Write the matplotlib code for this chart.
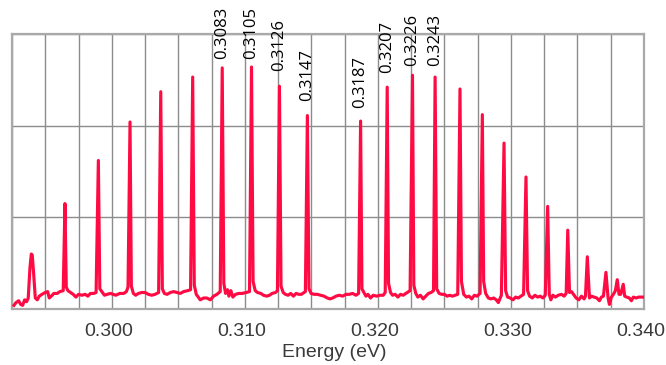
import matplotlib
matplotlib.use("Agg")
import matplotlib.pyplot as plt
from matplotlib.ticker import MultipleLocator, FixedLocator
from matplotlib.transforms import ScaledTranslation

# Measured spectrum: energy (eV) and intensity (arb. units)
trace_energy = [
    0.29265, 0.29280, 0.29300, 0.29315, 0.29330, 0.29345, 0.29360, 0.29372,
    0.29385, 0.29395, 0.29402, 0.29412, 0.29425, 0.29440, 0.29455, 0.29475,
    0.29500, 0.29518, 0.29530, 0.29545, 0.29565, 0.29590, 0.29610, 0.29635,
    0.29648, 0.29658, 0.29670, 0.29690, 0.29710, 0.29730, 0.29750, 0.29775,
    0.29800, 0.29820, 0.29840, 0.29865, 0.29882, 0.29899, 0.29910, 0.29925,
    0.29945, 0.29965, 0.29990, 0.30010, 0.30030, 0.30060, 0.30090, 0.30110,
    0.30122, 0.30137, 0.30147, 0.30162, 0.30180, 0.30200, 0.30225, 0.30250,
    0.30275, 0.30300, 0.30325, 0.30352, 0.30368, 0.30380, 0.30395, 0.30415,
    0.30440, 0.30465, 0.30490, 0.30515, 0.30540, 0.30570, 0.30592, 0.30608,
    0.30620, 0.30635, 0.30650, 0.30665, 0.30690, 0.30715, 0.30740, 0.30765,
    0.30790, 0.30815, 0.3083, 0.30842, 0.30855, 0.30870, 0.30880, 0.30895,
    0.30910, 0.30930, 0.30955, 0.30980, 0.31010, 0.31035, 0.3105, 0.31062,
    0.31078, 0.31095, 0.31120, 0.31140, 0.31165, 0.31185, 0.31205, 0.31230,
    0.31245, 0.3126, 0.31272, 0.31288, 0.31305, 0.31325, 0.31345, 0.31365,
    0.31385, 0.31405, 0.31425, 0.31455, 0.3147, 0.31482, 0.31498, 0.31520,
    0.31545, 0.31570, 0.31595, 0.31620, 0.31640, 0.31660, 0.31685, 0.31710,
    0.31735, 0.31760, 0.31785, 0.31810, 0.31835, 0.31855, 0.3187, 0.31880,
    0.31895, 0.31910, 0.31925, 0.31945, 0.31965, 0.31990, 0.32015, 0.32040,
    0.32055, 0.3207, 0.32080, 0.32095, 0.32110, 0.32130, 0.32150, 0.32170,
    0.32190, 0.32210, 0.32242, 0.3226, 0.32270, 0.32285, 0.32300, 0.32320,
    0.32340, 0.32360, 0.32380, 0.32400, 0.32418, 0.3243, 0.32442, 0.32460,
    0.32480, 0.32500, 0.32520, 0.32540, 0.32560, 0.32580, 0.32600, 0.32617,
    0.32628, 0.32645, 0.32665, 0.32685, 0.32705, 0.32725, 0.32745, 0.32768,
    0.32785, 0.32795, 0.32810, 0.32830, 0.32850, 0.32870, 0.32890, 0.32905,
    0.32928, 0.32948, 0.32960, 0.32975, 0.32995, 0.33015, 0.33035, 0.33055,
    0.33075, 0.33095, 0.33113, 0.33125, 0.33140, 0.33160, 0.33180, 0.33200,
    0.33220, 0.33240, 0.33258, 0.33276, 0.33288, 0.33300, 0.33315, 0.33335,
    0.33355, 0.33380, 0.33400, 0.33415, 0.33427, 0.33440, 0.33455, 0.33470,
    0.33490, 0.33510, 0.33530, 0.33550, 0.33560, 0.33574, 0.33590, 0.33605,
    0.33625, 0.33645, 0.33665, 0.33680, 0.33695, 0.33714, 0.33730, 0.33740,
    0.33755, 0.33770, 0.33785, 0.33799, 0.33812, 0.33825, 0.33835, 0.33844,
    0.33855, 0.33870, 0.33890, 0.33905, 0.33920, 0.33940, 0.33960, 0.33985,
    0.34000,
]
trace_intensity = [
    0.04, 0.07, 0.09, 0.05, 0.04, 0.10, 0.08, 0.12,
    0.45, 0.60, 0.59, 0.40, 0.12, 0.10, 0.14, 0.16,
    0.18, 0.19, 0.12, 0.14, 0.17, 0.17, 0.19, 0.20,
    1.15, 0.24, 0.20, 0.18, 0.16, 0.13, 0.16, 0.15,
    0.16, 0.14, 0.17, 0.17, 0.18, 1.62, 0.22, 0.19,
    0.15, 0.16, 0.17, 0.16, 0.15, 0.17, 0.17, 0.19,
    0.24, 2.04, 0.25, 0.17, 0.15, 0.17, 0.18, 0.18,
    0.16, 0.15, 0.16, 0.18, 2.37, 0.22, 0.17, 0.16,
    0.18, 0.19, 0.18, 0.17, 0.19, 0.20, 0.21, 2.53,
    0.26, 0.16, 0.13, 0.10, 0.12, 0.12, 0.10, 0.14,
    0.16, 0.19, 2.63, 0.28, 0.17, 0.21, 0.14, 0.20,
    0.13, 0.16, 0.17, 0.17, 0.18, 0.19, 2.64, 0.30,
    0.20, 0.18, 0.17, 0.15, 0.14, 0.15, 0.17, 0.18,
    0.20, 2.43, 0.25, 0.18, 0.16, 0.15, 0.17, 0.14,
    0.17, 0.16, 0.16, 0.19, 2.11, 0.22, 0.17, 0.16,
    0.16, 0.15, 0.14, 0.12, 0.11, 0.12, 0.14, 0.15,
    0.14, 0.16, 0.16, 0.17, 0.15, 0.17, 2.05, 0.22,
    0.18, 0.14, 0.16, 0.12, 0.15, 0.14, 0.15, 0.15,
    0.18, 2.42, 0.28, 0.18, 0.15, 0.16, 0.13, 0.16,
    0.15, 0.17, 0.20, 2.55, 0.26, 0.17, 0.13, 0.15,
    0.11, 0.14, 0.17, 0.18, 0.20, 2.53, 0.22, 0.17,
    0.16, 0.16, 0.14, 0.15, 0.14, 0.15, 0.16, 2.40,
    0.30, 0.16, 0.13, 0.14, 0.11, 0.15, 0.14, 0.17,
    2.12, 0.30, 0.17, 0.12, 0.11, 0.12, 0.10, 0.07,
    0.15, 1.81, 0.20, 0.13, 0.12, 0.10, 0.13, 0.12,
    0.14, 0.16, 1.44, 0.20, 0.14, 0.12, 0.15, 0.13,
    0.14, 0.12, 0.15, 1.12, 0.16, 0.10, 0.15, 0.13,
    0.15, 0.16, 0.14, 0.17, 0.86, 0.18, 0.19, 0.16,
    0.12, 0.10, 0.14, 0.11, 0.14, 0.57, 0.12, 0.14,
    0.13, 0.12, 0.09, 0.13, 0.14, 0.40, 0.12, 0.05,
    0.13, 0.16, 0.20, 0.32, 0.16, 0.16, 0.22, 0.27,
    0.14, 0.13, 0.12, 0.09, 0.13, 0.12, 0.13, 0.13,
    0.13,
]

# Peaks annotated with their energies (eV)
labeled_peaks = [0.3083, 0.3105, 0.3126, 0.3147, 0.3187, 0.3207, 0.3226, 0.3243]
label_gap_px = [9, 8, 15, 15, 13, 14, 9, 11]

x_tick_values = [0.300, 0.310, 0.320, 0.330, 0.340]
x_tick_labels = ["0.300", "0.310", "0.320", "0.330", "0.340"]

line_color = "#ff0a43"
grid_color = "#8c8c8c"
frame_color = "#a9a9a9"
text_color = "#3a3a3a"

fig = plt.figure(figsize=(6.66, 3.65), dpi=100)
ax = fig.add_axes([12 / 666, 56 / 365, 632 / 666, 275 / 365])

ax.plot(trace_energy, trace_intensity, color=line_color, lw=2.25,
        solid_joinstyle="round", zorder=3)

ax.set_xlim(0.2925, 0.340)
ax.set_ylim(0, 3)

ax.xaxis.set_major_locator(FixedLocator(x_tick_values))
ax.set_xticklabels(x_tick_labels, fontsize=14, color=text_color,
                   family="Liberation Sans")
ax.xaxis.set_minor_locator(MultipleLocator(0.0025))
ax.yaxis.set_major_locator(MultipleLocator(1))
ax.set_yticklabels([])
ax.tick_params(axis="both", which="both", length=0)
ax.tick_params(axis="x", pad=10)
shift = ScaledTranslation(-3 / 100, 0, fig.dpi_scale_trans)
for lbl in ax.get_xticklabels():
    lbl.set_transform(lbl.get_transform() + shift)

ax.grid(True, which="both", axis="x", color=grid_color, lw=1.0)
ax.grid(True, which="major", axis="y", color=grid_color, lw=1.0)
ax.set_axisbelow(True)
for sp in ax.spines.values():
    sp.set_color(frame_color)
    sp.set_linewidth(1.6)

ax.set_xlabel("Energy (eV)", fontsize=14, color=text_color,
              family="Liberation Sans")
ax.xaxis.set_label_coords(0.5095, -0.128)

for e, gap in zip(labeled_peaks, label_gap_px):
    h = trace_intensity[trace_energy.index(e)]
    ax.annotate(f"{e:.4f}", xy=(e, h), xytext=(0, gap * 72 / 100),
                textcoords="offset points", rotation=90, ha="center",
                va="bottom", fontsize=12, family="Open Sans", color="black",
                annotation_clip=False)

fig.savefig("out.png", dpi=100)
